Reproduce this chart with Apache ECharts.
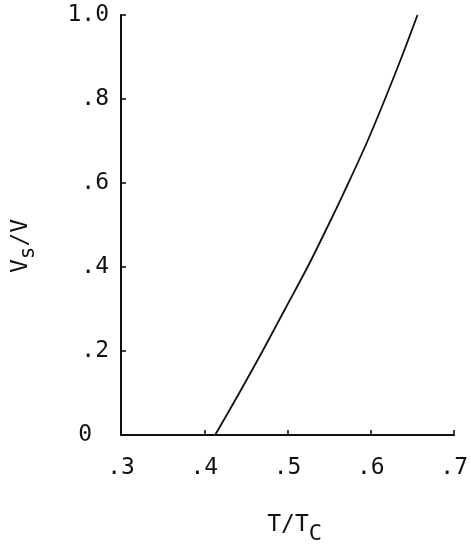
<!DOCTYPE html>
<html>
<head>
<meta charset="utf-8">
<script src="https://cdn.jsdelivr.net/npm/echarts@6/dist/echarts.min.js"></script>
<style>html,body{margin:0;padding:0;background:#fff;}#c{width:471px;height:550px;}</style>
</head>
<body>
<div id="c"></div>
<script>
// Data
var tOverTc = [0.413, 0.442, 0.470, 0.497, 0.524, 0.549, 0.573, 0.596, 0.617, 0.637, 0.656];
var vsOverV = [0.0, 0.1, 0.2, 0.3, 0.4, 0.5, 0.6, 0.7, 0.8, 0.9, 1.0];
var xTickLabels = ['.3', '.4', '.5', '.6', '.7'];
var yTickLabels = ['0', '.2', '.4', '.6', '.8', '1.0'];

var FONT = 'DejaVu Sans Mono';
var FS = 23;
var chart = echarts.init(document.getElementById('c'), null, {renderer: 'canvas'});
var pts = tOverTc.map(function (t, i) { return [t, vsOverV[i]]; });

chart.setOption({
  animation: false,
  backgroundColor: '#fff',
  grid: {left: 121, right: 14, top: 15, bottom: 115, containLabel: false},
  xAxis: {
    type: 'value', min: 0.3, max: 0.7, interval: 0.1,
    name: '{m|T/T}{s|C}', nameLocation: 'middle', nameGap: 70,
    nameTextStyle: {padding: [0, 0, 0, 14], rich: {
      m: {fontFamily: FONT, fontSize: FS, color: '#111'},
      s: {fontFamily: FONT, fontSize: 22, color: '#111', padding: [18, 0, 0, 0]}
    }},
    axisLine: {show: true, lineStyle: {color: '#111', width: 2}},
    axisTick: {show: true, inside: true, length: 5, lineStyle: {color: '#111', width: 1.6}},
    splitLine: {show: false},
    axisLabel: {
      margin: 22, fontFamily: FONT, fontSize: FS, color: '#111',
      formatter: function (v) { return xTickLabels[Math.round((v - 0.3) * 10)]; }
    }
  },
  yAxis: {
    type: 'value', min: 0, max: 1.0, interval: 0.2,
    name: '{m|V}{s|s}{m|/V}', nameLocation: 'middle', nameGap: 82,
    nameTextStyle: {padding: [0, 42, 0, 0], rich: {
      m: {fontFamily: FONT, fontSize: FS, color: '#111'},
      s: {fontFamily: FONT, fontSize: 21, color: '#111', padding: [14, 0, 0, 0]}
    }},
    axisLine: {show: true, lineStyle: {color: '#111', width: 2}},
    axisTick: {show: true, inside: true, length: 5, lineStyle: {color: '#111', width: 1.6}},
    splitLine: {show: false},
    axisLabel: {
      margin: 12, fontFamily: FONT, fontSize: FS, color: '#111',
      formatter: function (v) {
        var l = yTickLabels[Math.round(v * 5)];
        return v === 0 ? '{z|' + l + '}' : l;
      },
      rich: {z: {fontFamily: FONT, fontSize: FS, color: '#111', padding: [0, 17, 0, 0]}}
    }
  },
  series: [{
    type: 'line', data: pts, smooth: 0.3, showSymbol: false,
    lineStyle: {color: '#111', width: 1.8}
  }]
});
</script>
</body>
</html>
